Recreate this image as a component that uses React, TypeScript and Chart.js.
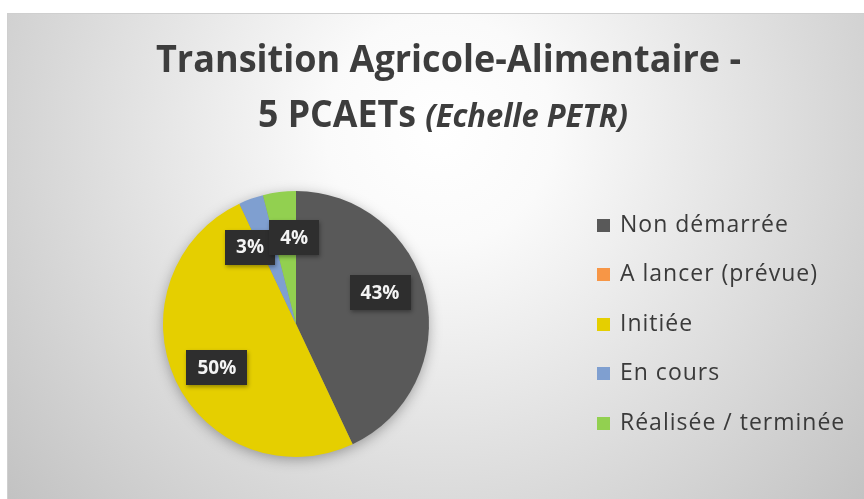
import React, { useEffect, useRef } from 'react';
import { Chart, registerables } from 'chart.js';

Chart.register(...registerables);

const categories = ['Non démarrée', 'A lancer (prévue)', 'Initiée', 'En cours', 'Réalisée / terminée'];
const shares = [43, 0, 50, 3, 4];
const sliceColors = ['#595959', '#F79646', '#E5CF00', '#7F9FD0', '#92D050'];
const titleLine1 = 'Transition Agricole-Alimentaire -';
const titleLine2Main = '5 PCAETs ';
const titleLine2Italic = '(Echelle PETR)';

const W = 864;
const H = 499;

const decorPlugin = {
  id: 'decor',
  beforeDraw(chart: any) {
    const ctx: CanvasRenderingContext2D = chart.ctx;
    ctx.save();
    ctx.fillStyle = '#ffffff';
    ctx.fillRect(0, 0, W, H);
    const g = ctx.createRadialGradient(440, 130, 0, 440, 130, 570);
    g.addColorStop(0, '#ffffff');
    g.addColorStop(0.2, '#fafafa');
    g.addColorStop(1, '#c2c2c2');
    ctx.fillStyle = g;
    ctx.fillRect(7, 13, W - 7, H - 13);
    ctx.strokeStyle = '#cfcfcf';
    ctx.lineWidth = 1;
    ctx.strokeRect(7.5, 13.5, W, H);

    // Title
    ctx.fillStyle = '#3d3d3d';
    ctx.textBaseline = 'alphabetic';
    ctx.textAlign = 'left';
    const f1 = 'bold 37px "Open Sans"';
    const fi = 'italic bold 32px "Open Sans"';
    ctx.font = f1;
    const w1 = ctx.measureText(titleLine1).width;
    const sx = 585 / w1;
    ctx.save();
    ctx.translate(448.5, 72);
    ctx.scale(sx, 1);
    ctx.fillText(titleLine1, -w1 / 2, 0);
    ctx.restore();
    const wm = ctx.measureText(titleLine2Main).width;
    ctx.font = fi;
    const wi = ctx.measureText(titleLine2Italic).width;
    const total = wm + wi;
    const sx2 = 370 / total;
    ctx.save();
    ctx.translate(443, 127);
    ctx.scale(sx2, 1);
    ctx.font = f1;
    ctx.fillText(titleLine2Main, -total / 2, 0);
    ctx.font = fi;
    ctx.fillText(titleLine2Italic, -total / 2 + wm, 0);
    ctx.restore();
    ctx.restore();
  },
  beforeDatasetsDraw(chart: any) {
    const meta = chart.getDatasetMeta(0);
    const arc = meta.data[0];
    if (!arc) return;
    const { x, y, outerRadius } = arc.getProps(['x', 'y', 'outerRadius'], true);
    const ctx: CanvasRenderingContext2D = chart.ctx;
    ctx.save();
    ctx.shadowColor = 'rgba(0,0,0,0.35)';
    ctx.shadowBlur = 14;
    ctx.shadowOffsetX = 0;
    ctx.shadowOffsetY = 3;
    ctx.fillStyle = '#8a8a8a';
    ctx.beginPath();
    ctx.arc(x, y, outerRadius - 1, 0, Math.PI * 2);
    ctx.fill();
    ctx.restore();
  },
  afterDatasetsDraw(chart: any) {
    const ctx: CanvasRenderingContext2D = chart.ctx;
    const meta = chart.getDatasetMeta(0);
    const values: number[] = chart.data.datasets[0].data as number[];
    const sum = values.reduce((a, b) => a + b, 0);
    const angleShift = [-7.7, 0, -3.8, -11, 6];
    const radiusFactor = [0.673, 0.67, 0.68, 0.674, 0.65];
    ctx.save();
    ctx.font = 'bold 19px "Open Sans"';
    ctx.textAlign = 'center';
    ctx.textBaseline = 'middle';
    meta.data.forEach((arc: any, i: number) => {
      const v = values[i];
      if (!v) return;
      const { x, y, startAngle, endAngle, outerRadius } = arc.getProps(
        ['x', 'y', 'startAngle', 'endAngle', 'outerRadius'],
        true
      );
      const mid = (startAngle + endAngle) / 2 + (angleShift[i] * Math.PI) / 180;
      const r = outerRadius * radiusFactor[i];
      const px = x + Math.cos(mid) * r;
      const py = y + Math.sin(mid) * r;
      const txt = Math.round((v / sum) * 100) + '%';
      const tw = ctx.measureText(txt).width;
      const bw = tw + 22;
      const bh = 35;
      ctx.save();
      ctx.shadowColor = 'rgba(0,0,0,0.35)';
      ctx.shadowBlur = 4;
      ctx.shadowOffsetX = 1;
      ctx.shadowOffsetY = 2;
      ctx.fillStyle = '#2e2e2e';
      ctx.fillRect(Math.round(px - bw / 2), Math.round(py - bh / 2), Math.round(bw), bh);
      ctx.restore();
      ctx.fillStyle = '#f4f4f4';
      ctx.fillText(txt, px, py + 1);
    });
    ctx.restore();
  },
  afterDraw(chart: any) {
    const ctx: CanvasRenderingContext2D = chart.ctx;
    const area = chart.chartArea;
    const cy = (area.top + area.bottom) / 2;
    const labels: string[] = chart.data.labels as string[];
    const colors: string[] = chart.data.datasets[0].backgroundColor as string[];
    const step = 49.5;
    ctx.save();
    ctx.font = '23px "Open Sans"';
    (ctx as any).letterSpacing = '1px';
    ctx.textAlign = 'left';
    ctx.textBaseline = 'middle';
    labels.forEach((lab, i) => {
      const yy = cy + (i - (labels.length - 1) / 2) * step;
      ctx.fillStyle = colors[i];
      ctx.fillRect(597, Math.round(yy - 6.5), 13, 13);
      ctx.fillStyle = '#3a3a3a';
      ctx.fillText(lab, 620, yy);
    });
    (ctx as any).letterSpacing = '0px';
    ctx.restore();
  },
};

export default function App() {
  const ref = useRef<HTMLCanvasElement>(null);
  useEffect(() => {
    if (!ref.current) return;
    const chart = new Chart(ref.current, {
      type: 'pie',
      data: {
        labels: categories,
        datasets: [
          {
            data: shares,
            backgroundColor: sliceColors,
            borderWidth: 0,
          },
        ],
      },
      options: {
        responsive: false,
        animation: false,
        layout: { padding: { top: 191, bottom: 42, left: 25, right: 297 } },
        plugins: {
          legend: { display: false },
          title: { display: false },
          tooltip: { enabled: false },
        },
      },
      plugins: [decorPlugin],
    });
    return () => chart.destroy();
  }, []);
  return (
    <div style={{ position: 'fixed', left: 0, top: 0, width: W, height: H }}>
      <canvas ref={ref} width={W} height={H} style={{ display: 'block' }} />
    </div>
  );
}
